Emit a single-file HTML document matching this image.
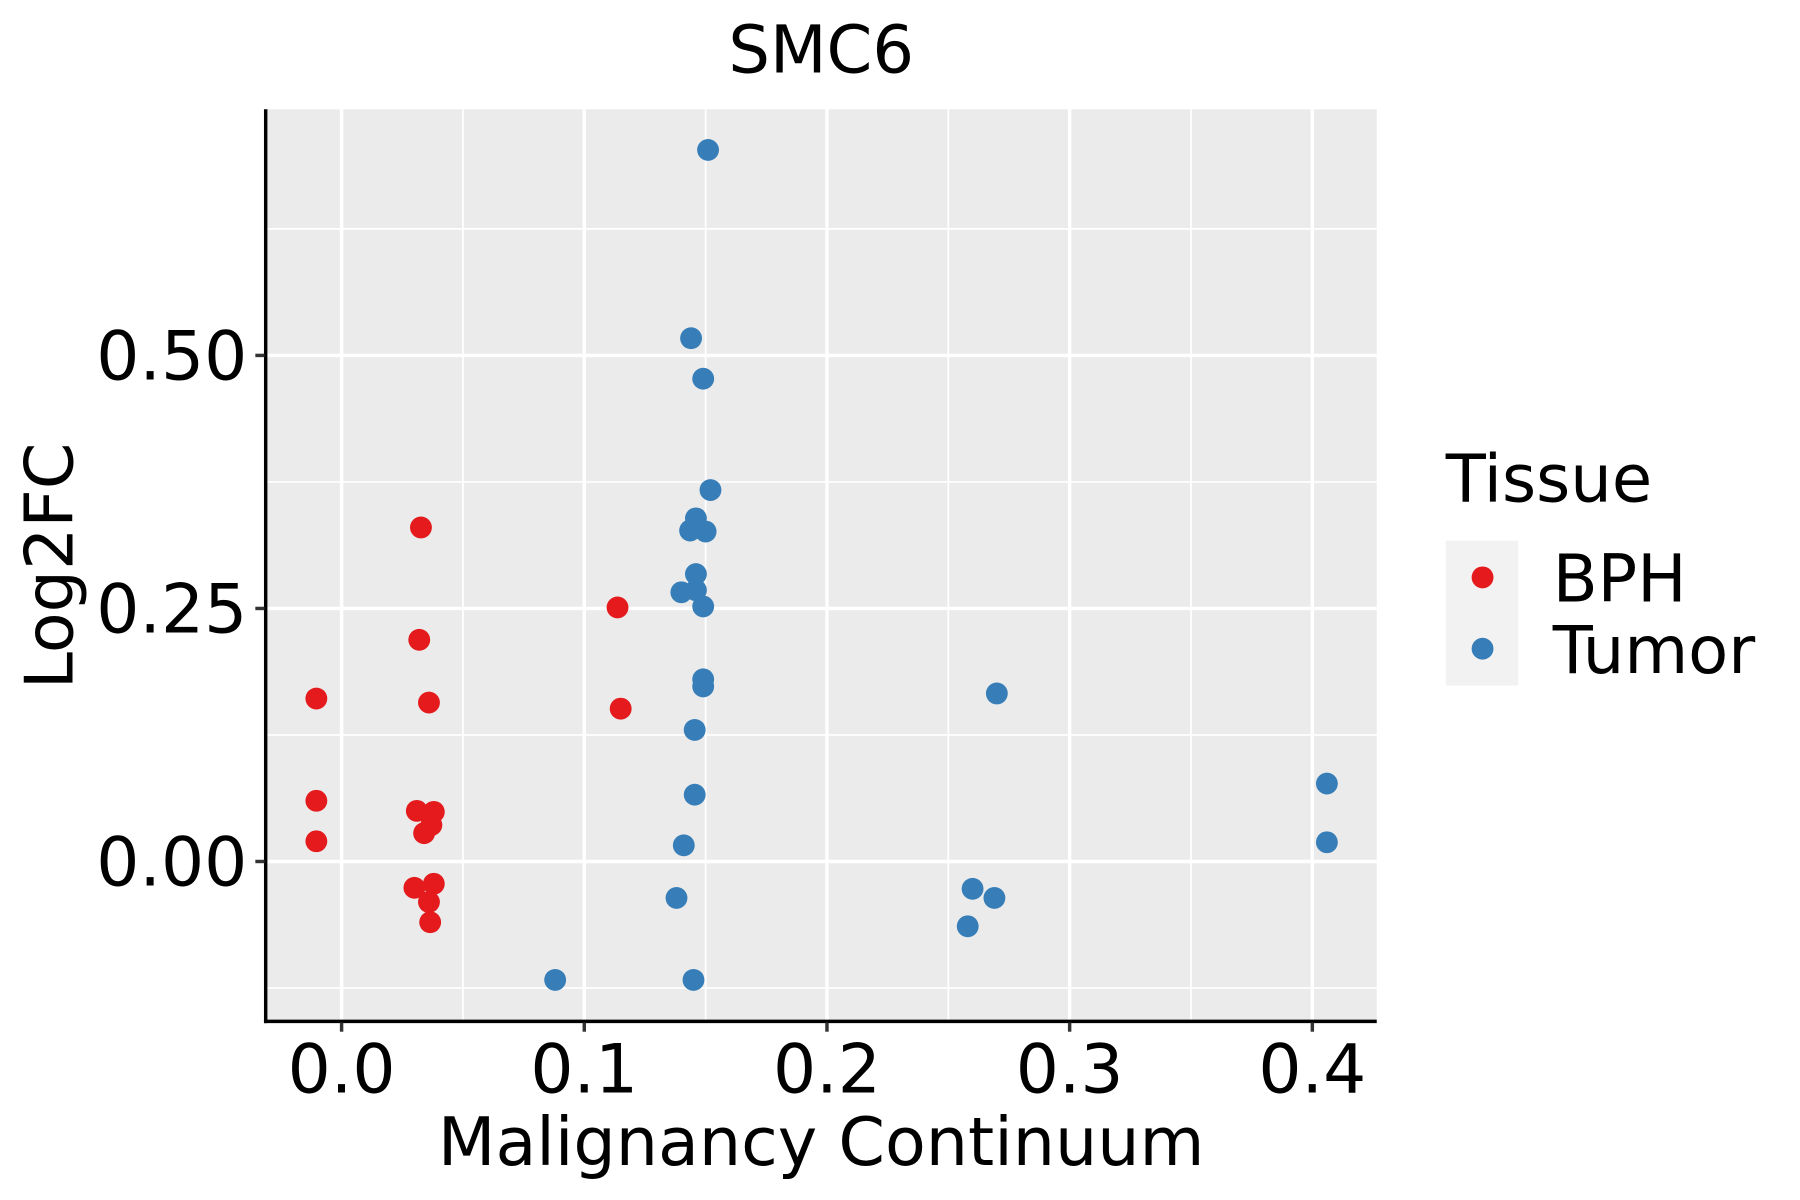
<!DOCTYPE html>
<html><head><meta charset="utf-8"><style>
html,body{margin:0;padding:0;background:#fff;}
svg{display:block;font-family:"DejaVu Sans","Liberation Sans",sans-serif;}
</style></head><body>
<svg id="chart" width="1800" height="1200" viewBox="0 0 1565 1043.3" xmlns="http://www.w3.org/2000/svg">
<rect x="0" y="0" width="1565" height="1044" fill="#fff"/>
<rect x="231" y="95" width="966" height="793" fill="#EBEBEB"/>
<g id="grid"></g>
<g id="points"></g>
<line x1="231" y1="95" x2="231" y2="889.5" stroke="#000" stroke-width="3"/>
<line x1="229.5" y1="888" x2="1197" y2="888" stroke="#000" stroke-width="3"/>
<g id="ticks"></g>
<text x="714" y="63" font-size="57" text-anchor="middle">SMC6</text>
<text x="714" y="1013" font-size="58" text-anchor="middle">Malignancy Continuum</text>
<text transform="translate(63,492) rotate(-90)" font-size="58" text-anchor="middle">Log2FC</text>
<g>
<text x="1257" y="436" font-size="57">Tissue</text>
<rect x="1257" y="470" width="63" height="126" fill="#F2F2F2"/>
<circle cx="1289" cy="502" r="9.5" fill="#E41A1C"/>
<circle cx="1289" cy="564" r="9.5" fill="#377EB8"/>
<text x="1350" y="523" font-size="57">BPH</text>
<text x="1350" y="585" font-size="57">Tumor</text>
</g>
</svg>
<script>
const xTicks=[0.0,0.1,0.2,0.3,0.4];
const xTickLabels=["0.0","0.1","0.2","0.3","0.4"];
const xMinor=[0.05,0.15,0.25,0.35];
const yTicks=[0,0.25,0.5];
const yTickLabels=["0.00","0.25","0.50"];
const yMinor=[-0.125,0.125,0.375,0.625];
const bphX=[-0.0104,-0.0104,-0.0104,0.0327,0.032,0.036,0.031,0.038,0.037,0.034,0.030,0.038,0.036,0.0365,0.1137,0.115];
const bphY=[0.161,0.060,0.020,0.330,0.219,0.157,0.050,0.049,0.036,0.028,-0.026,-0.022,-0.040,-0.060,0.251,0.151];
const tumorX=[0.151,0.144,0.149,0.152,0.146,0.1436,0.150,0.146,0.140,0.146,0.149,0.149,0.149,0.1455,0.1455,0.141,0.138,0.088,0.145,0.270,0.406,0.406,0.260,0.269,0.258];
const tumorY=[0.703,0.517,0.477,0.367,0.339,0.327,0.326,0.284,0.266,0.268,0.252,0.180,0.173,0.130,0.066,0.016,-0.036,-0.117,-0.117,0.166,0.077,0.019,-0.027,-0.036,-0.064];
const NS="http://www.w3.org/2000/svg";
function sx(v){return 297+v*2110;}
function sy(v){return 749-v*880;}
function mk(tag,attrs,parent){const e=document.createElementNS(NS,tag);for(const k in attrs)e.setAttribute(k,attrs[k]);parent.appendChild(e);return e;}
const grid=document.getElementById('grid');
xMinor.forEach(v=>{const l=mk('line',{x1:sx(v),x2:sx(v),y1:95,y2:888,stroke:'#fff','stroke-width':1.5},grid);

});
yMinor.forEach(v=>{const l=mk('line',{x1:231,x2:1197,y1:sy(v),y2:sy(v),stroke:'#fff','stroke-width':1.5},grid);

});
xTicks.forEach(v=>{const l=mk('line',{x1:sx(v),x2:sx(v),y1:95,y2:888,stroke:'#fff','stroke-width':3},grid);

});
yTicks.forEach(v=>{const l=mk('line',{x1:231,x2:1197,y1:sy(v),y2:sy(v),stroke:'#fff','stroke-width':3},grid);

});
const ticks=document.getElementById('ticks');
xTicks.forEach((v,i)=>{const t=mk('line',{x1:sx(v),x2:sx(v),y1:889,y2:897,stroke:'#333','stroke-width':3},ticks);


const tx=mk('text',{x:sx(v),y:950,'font-size':59,'text-anchor':'middle',fill:'#000'},ticks);tx.textContent=xTickLabels[i];

});
yTicks.forEach((v,i)=>{const t=mk('line',{x1:222,x2:230,y1:sy(v),y2:sy(v),stroke:'#333','stroke-width':3},ticks);


const tx=mk('text',{x:215,y:sy(v)+21,'font-size':59,'text-anchor':'end',fill:'#000'},ticks);tx.textContent=yTickLabels[i];

});
const pts=document.getElementById('points');
bphX.forEach((x,i)=>{const c=mk('circle',{cx:sx(x),cy:sy(bphY[i]),r:9.5,fill:'#E41A1C'},pts);

});
tumorX.forEach((x,i)=>{const c=mk('circle',{cx:sx(x),cy:sy(tumorY[i]),r:9.5,fill:'#377EB8'},pts);

});
</script>
</body></html>
